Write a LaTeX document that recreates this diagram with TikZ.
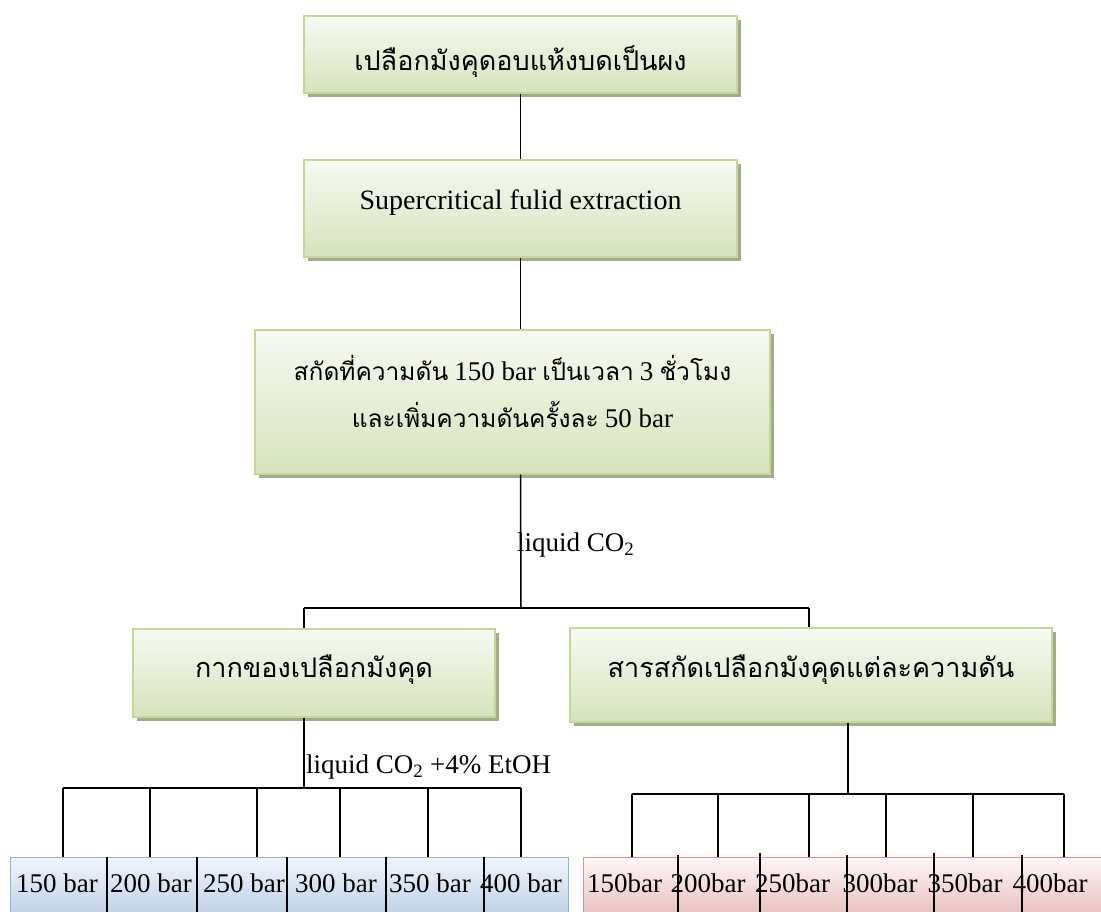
\documentclass[tikz,border=0pt]{standalone}
\usepackage{fontspec}
\setmainfont{Liberation Serif}
\newfontfamily\thaifont[Script=Thai]{Loma}
\usetikzlibrary{shadows}
\newcommand{\tht}[1]{{\thaifont #1}}
\definecolor{gtop}{RGB}{247,250,242}
\definecolor{gbot}{RGB}{214,227,188}
\definecolor{gborder}{RGB}{196,215,155}
\definecolor{gshadow}{RGB}{163,171,137}
\definecolor{btop}{RGB}{240,245,251}
\definecolor{bbot}{RGB}{180,201,227}
\definecolor{bborder}{RGB}{149,179,215}
\definecolor{ptop}{RGB}{254,246,246}
\definecolor{pbot}{RGB}{228,180,179}
\definecolor{pborder}{RGB}{217,150,148}
\tikzset{
  gbox/.style={draw=gborder, line width=1.2pt, top color=gtop, bottom color=gbot,
    drop shadow={shadow xshift=4pt, shadow yshift=-4pt, fill=gshadow, opacity=1},
    inner sep=0pt, font=\fontsize{28}{33}\selectfont, text=black},
  conn/.style={line width=1.5pt, black},
  lab/.style={inner sep=0pt, font=\fontsize{27}{32}\selectfont},
  cellsep/.style={line width=1.5pt, black}
}
\begin{document}
\begin{tikzpicture}[x=1pt,y=-1pt]
\useasboundingbox[fill=white] (0,0) rectangle (1101,912);
% main boxes
\node[gbox, minimum width=433, minimum height=77, text height=35pt, text depth=2pt] (n1) at (520.5,54.5)
  {\fontsize{27}{32}\selectfont\tht{เปลือกมังคุดอบแห้งบดเป็นผง}};
\node[gbox, minimum width=433, minimum height=97, text height=4pt, text depth=2pt] (n2) at (520.5,208.5)
  {Supercritical fulid extraction};
\node[gbox, minimum width=515, minimum height=144, align=center, text depth=22pt] (n3) at (512.5,402)
  {\fontsize{24.5}{28}\selectfont\tht{สกัดที่ความดัน} {\fontsize{27}{32}\selectfont 150 bar} \tht{เป็นเวลา} {\fontsize{27}{32}\selectfont 3} \tht{ชั่วโมง}\\[14pt]
   \fontsize{24.5}{28}\selectfont\tht{และเพิ่มความดันครั้งละ} {\fontsize{27}{32}\selectfont 50 bar}};
\node[gbox, minimum width=362, minimum height=88, text height=10pt, text depth=2pt] (n4) at (314,673)
  {\fontsize{27}{32}\selectfont\tht{กากของเปลือกมังคุด}};
\node[gbox, minimum width=482, minimum height=94, text height=6pt, text depth=2pt] (n5) at (811,675)
  {\fontsize{27}{32}\selectfont\tht{สารสกัดเปลือกมังคุดแต่ละความดัน}};
% bottom result boxes
\node[draw=bborder, line width=1.2pt, top color=btop, bottom color=bbot, minimum width=558, minimum height=70, anchor=north west, inner sep=0pt] (bb) at (10,857) {};
\node[draw=pborder, line width=1.2pt, top color=ptop, bottom color=pbot, minimum width=540, minimum height=70, anchor=north west, inner sep=0pt] (pb) at (583,857) {};
% cell separators
\foreach \x in {107,197,287,386,484} \draw[cellsep] (\x,857) -- (\x,912);
\foreach \x/\t in {678/855,760/853,847/855,934/853,1022/855} \draw[cellsep] (\x,\t) -- (\x,912);
% bottom labels
\node[lab] (l1) at (57,883) {150 bar};
\node[lab] (l2) at (151,883) {200 bar};
\node[lab] (l3) at (244,883) {250 bar};
\node[lab] (l4) at (336,883) {300 bar};
\node[lab] (l5) at (430,883) {350 bar};
\node[lab] (l6) at (521,883) {400 bar};
\node[lab] (r1) at (624.5,883) {150bar};
\node[lab] (r2) at (708,883) {200bar};
\node[lab] (r3) at (792.5,883) {250bar};
\node[lab] (r4) at (880,883) {300bar};
\node[lab] (r5) at (965,883) {350bar};
\node[lab] (r6) at (1050,883) {400bar};
% connector coordinates
\coordinate (j1) at (521,608);
\coordinate (j1l) at (304,608);
\coordinate (j1r) at (809,608);
\coordinate (j2) at (304,788);
\coordinate (j3) at (848,794);
% connectors
\draw[conn] (n1) -- (n2);
\draw[conn] (n2.south) -- (n3.north -| n2.south);
\draw[conn] (n3.south -| n2.south) -- (j1);
\draw[conn] (j1l) -- (j1r);
\draw[conn] (j1l) -- (j1l |- n4.north);
\draw[conn] (j1r) -- (j1r |- n5.north);
\node[lab, anchor=west] (lc1) at (517,545) {liquid CO\textsubscript{2}};
\draw[conn] (n4.south -| j1l) -- (j2);
\node[lab, anchor=west] (lc2) at (306,767) {liquid CO\textsubscript{2} +4\% EtOH};
\draw[conn] (63,788) -- (521,788);
\foreach \x in {63,150,257,340,428,521} \draw[conn] (\x,788) -- (\x,857);
\draw[conn] (n5.south -| j3) -- (j3);
\draw[conn] (632,794) -- (1064,794);
\foreach \x in {632,718,809,886,973,1064} \draw[conn] (\x,794) -- (\x,857);
\end{tikzpicture}
\end{document}
